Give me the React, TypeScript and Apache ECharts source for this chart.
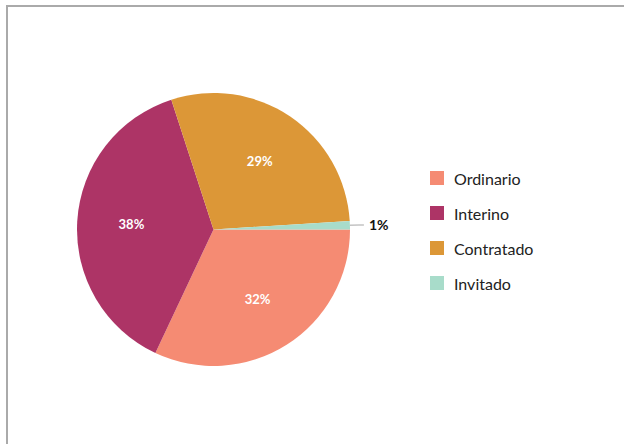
import React, { useEffect, useRef } from "react";
import * as echarts from "echarts";

const categories = ["Ordinario", "Interino", "Contratado", "Invitado"];
const values = [32, 38, 29, 1];
const colors = ["#F58B73", "#AD3466", "#DC9737", "#A8DCCA"];
const insideLabel = [true, true, true, false];

export default function App() {
  const ref = useRef<HTMLDivElement>(null);
  useEffect(() => {
    if (!ref.current) return;
    const chart = echarts.init(ref.current, undefined, { renderer: "svg" });
    const baseData = categories.map((name, i) => ({
      name,
      value: values[i],
      itemStyle: { color: colors[i] },
      label: insideLabel[i] ? { show: false } : { show: true },
      labelLine: { show: !insideLabel[i] },
    }));
    const overlayData = categories.map((name, i) => ({
      name,
      value: values[i],
      itemStyle: { color: "rgba(0,0,0,0)" },
      label: { show: insideLabel[i] },
    }));
    chart.setOption({
      animation: false,
      legend: {
        orient: "vertical",
        left: 425,
        top: 165,
        itemWidth: 14,
        itemHeight: 14,
        itemGap: 19,
        icon: "rect",
        data: categories,
        textStyle: { fontFamily: "Lato", fontSize: 16, color: "#222", padding: [0, 0, 0, 5] },
      },
      series: [
        {
          type: "pie",
          center: [213.5, 229.5],
          radius: [0, 136.5],
          startAngle: 0,
          clockwise: true,
          silent: true,
          data: baseData,
          label: {
            position: "outside",
            formatter: (p: any) => Math.round(p.percent) + "%",
            fontFamily: "Lato",
            fontWeight: "bold",
            fontSize: 14,
            color: "#111",
          },
          labelLine: { length: 9, length2: 5, lineStyle: { color: "#c4c4c4", width: 1.5 } },
        },
        {
          type: "pie",
          center: [213.5, 229.5],
          radius: [22, 136.5],
          startAngle: 0,
          clockwise: true,
          silent: true,
          legendHoverLink: false,
          data: overlayData,
          label: {
            position: "inside",
            formatter: (p: any) => Math.round(p.percent) + "%",
            fontFamily: "Lato",
            fontWeight: "bold",
            fontSize: 13,
            color: "#fff",
          },
          labelLine: { show: false },
        },
      ],
    });
    return () => chart.dispose();
  }, []);
  return (
    <div style={{ position: "fixed", left: 0, top: 0, width: 624, height: 444, background: "#fff" }}>
      <div style={{ position: "absolute", left: 6, top: 5, width: 618, height: 2, background: "#aaa" }} />
      <div style={{ position: "absolute", left: 6, top: 5, width: 2, height: 439, background: "#aaa" }} />
      <div ref={ref} style={{ position: "absolute", left: 0, top: 0, width: 624, height: 444 }} />
    </div>
  );
}
